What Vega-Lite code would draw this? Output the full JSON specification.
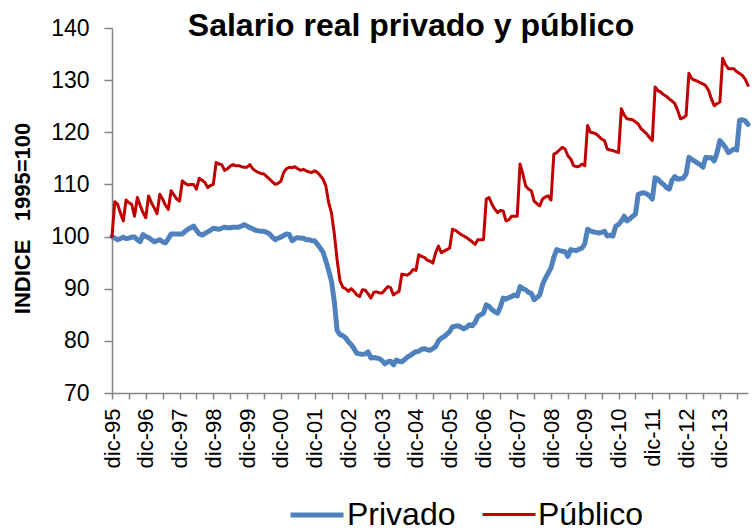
{
"$schema":"https://vega.github.io/schema/vega-lite/v6.json",
"width":636,"height":365,
"autosize":{"type":"none"},
"padding":{"left":112,"top":28,"right":7,"bottom":138},
"background":"white",
"config":{"view":{"stroke":null},"font":"Liberation Sans"},
"title":{"text":"Salario real privado y público","fontSize":32,"fontWeight":"bold","font":"Liberation Sans","color":"#000000","anchor":"middle","frame":"group","dx":-19,"offset":0,"baseline":"alphabetic","dy":51},
"data":{"values":[
{"d":"1995-12","Privado":100.0,"Público":100.0},
{"d":"1996-01","Privado":99.7,"Público":106.7},
{"d":"1996-02","Privado":99.4,"Público":106.2},
{"d":"1996-03","Privado":99.6,"Público":104.5},
{"d":"1996-04","Privado":99.9,"Público":103.0},
{"d":"1996-05","Privado":99.6,"Público":107.0},
{"d":"1996-06","Privado":99.7,"Público":106.5},
{"d":"1996-07","Privado":99.9,"Público":106.2},
{"d":"1996-08","Privado":99.9,"Público":103.9},
{"d":"1996-09","Privado":99.4,"Público":107.5},
{"d":"1996-10","Privado":99.0,"Público":106.0},
{"d":"1996-11","Privado":100.4,"Público":104.6},
{"d":"1996-12","Privado":100.0,"Público":103.6},
{"d":"1997-01","Privado":99.8,"Público":107.8},
{"d":"1997-02","Privado":99.4,"Público":106.5},
{"d":"1997-03","Privado":99.0,"Público":105.5},
{"d":"1997-04","Privado":99.2,"Público":104.4},
{"d":"1997-05","Privado":99.4,"Público":108.1},
{"d":"1997-06","Privado":99.0,"Público":107.2},
{"d":"1997-07","Privado":98.8,"Público":106.0},
{"d":"1997-08","Privado":99.6,"Público":105.2},
{"d":"1997-09","Privado":100.5,"Público":108.8},
{"d":"1997-10","Privado":100.5,"Público":108.0},
{"d":"1997-11","Privado":100.5,"Público":107.2},
{"d":"1997-12","Privado":100.5,"Público":106.8},
{"d":"1998-01","Privado":100.5,"Público":110.7},
{"d":"1998-02","Privado":101.0,"Público":110.2},
{"d":"1998-03","Privado":101.4,"Público":109.9},
{"d":"1998-04","Privado":101.7,"Público":110.0},
{"d":"1998-05","Privado":102.0,"Público":110.0},
{"d":"1998-06","Privado":101.2,"Público":109.1},
{"d":"1998-07","Privado":100.5,"Público":111.2},
{"d":"1998-08","Privado":100.3,"Público":110.8},
{"d":"1998-09","Privado":100.6,"Público":110.4},
{"d":"1998-10","Privado":100.9,"Público":109.4},
{"d":"1998-11","Privado":101.2,"Público":109.8},
{"d":"1998-12","Privado":101.6,"Público":110.0},
{"d":"1999-01","Privado":101.5,"Público":114.2},
{"d":"1999-02","Privado":101.4,"Público":113.9},
{"d":"1999-03","Privado":101.6,"Público":113.8},
{"d":"1999-04","Privado":101.8,"Público":112.7},
{"d":"1999-05","Privado":101.7,"Público":113.0},
{"d":"1999-06","Privado":101.7,"Público":113.5},
{"d":"1999-07","Privado":101.8,"Público":113.8},
{"d":"1999-08","Privado":101.8,"Público":113.6},
{"d":"1999-09","Privado":101.8,"Público":113.6},
{"d":"1999-10","Privado":102.0,"Público":113.4},
{"d":"1999-11","Privado":102.3,"Público":113.3},
{"d":"1999-12","Privado":102.0,"Público":113.3},
{"d":"2000-01","Privado":101.7,"Público":113.8},
{"d":"2000-02","Privado":101.5,"Público":113.0},
{"d":"2000-03","Privado":101.2,"Público":112.6},
{"d":"2000-04","Privado":101.1,"Público":112.3},
{"d":"2000-05","Privado":101.0,"Público":112.1},
{"d":"2000-06","Privado":101.0,"Público":112.0},
{"d":"2000-07","Privado":100.8,"Público":111.5},
{"d":"2000-08","Privado":100.5,"Público":111.0},
{"d":"2000-09","Privado":99.9,"Público":110.5},
{"d":"2000-10","Privado":99.4,"Público":110.0},
{"d":"2000-11","Privado":99.7,"Público":110.2},
{"d":"2000-12","Privado":99.9,"Público":110.6},
{"d":"2001-01","Privado":100.2,"Público":112.3},
{"d":"2001-02","Privado":100.5,"Público":113.0},
{"d":"2001-03","Privado":100.4,"Público":113.3},
{"d":"2001-04","Privado":99.2,"Público":113.2},
{"d":"2001-05","Privado":99.6,"Público":113.4},
{"d":"2001-06","Privado":99.8,"Público":113.0},
{"d":"2001-07","Privado":99.7,"Público":112.7},
{"d":"2001-08","Privado":99.7,"Público":112.9},
{"d":"2001-09","Privado":99.4,"Público":112.6},
{"d":"2001-10","Privado":99.4,"Público":112.4},
{"d":"2001-11","Privado":99.2,"Público":112.3},
{"d":"2001-12","Privado":99.2,"Público":112.6},
{"d":"2002-01","Privado":98.5,"Público":112.3},
{"d":"2002-02","Privado":97.8,"Público":111.7},
{"d":"2002-03","Privado":97.0,"Público":111.0},
{"d":"2002-04","Privado":95.3,"Público":109.7},
{"d":"2002-05","Privado":93.5,"Público":106.5},
{"d":"2002-06","Privado":91.4,"Público":104.5},
{"d":"2002-07","Privado":87.5,"Público":100.5},
{"d":"2002-08","Privado":82.0,"Público":95.5},
{"d":"2002-09","Privado":81.2,"Público":91.5},
{"d":"2002-10","Privado":81.0,"Público":90.3},
{"d":"2002-11","Privado":80.6,"Público":90.0},
{"d":"2002-12","Privado":79.8,"Público":89.5},
{"d":"2003-01","Privado":79.3,"Público":90.0},
{"d":"2003-02","Privado":78.5,"Público":89.5},
{"d":"2003-03","Privado":77.6,"Público":88.8},
{"d":"2003-04","Privado":77.5,"Público":88.5},
{"d":"2003-05","Privado":77.4,"Público":89.8},
{"d":"2003-06","Privado":77.5,"Público":89.7},
{"d":"2003-07","Privado":77.9,"Público":89.0},
{"d":"2003-08","Privado":76.7,"Público":88.2},
{"d":"2003-09","Privado":76.8,"Público":89.3},
{"d":"2003-10","Privado":76.7,"Público":89.4},
{"d":"2003-11","Privado":76.6,"Público":89.2},
{"d":"2003-12","Privado":76.2,"Público":89.2},
{"d":"2004-01","Privado":75.6,"Público":89.8},
{"d":"2004-02","Privado":76.0,"Público":90.4},
{"d":"2004-03","Privado":76.1,"Público":90.2},
{"d":"2004-04","Privado":75.4,"Público":88.8},
{"d":"2004-05","Privado":76.3,"Público":89.2},
{"d":"2004-06","Privado":76.1,"Público":89.5},
{"d":"2004-07","Privado":76.0,"Público":92.8},
{"d":"2004-08","Privado":76.4,"Público":92.7},
{"d":"2004-09","Privado":76.9,"Público":92.6},
{"d":"2004-10","Privado":77.2,"Público":93.0},
{"d":"2004-11","Privado":77.6,"Público":93.7},
{"d":"2004-12","Privado":77.9,"Público":93.5},
{"d":"2005-01","Privado":78.0,"Público":96.5},
{"d":"2005-02","Privado":78.4,"Público":96.2},
{"d":"2005-03","Privado":78.5,"Público":96.0},
{"d":"2005-04","Privado":78.3,"Público":95.5},
{"d":"2005-05","Privado":78.2,"Público":95.3},
{"d":"2005-06","Privado":78.5,"Público":94.9},
{"d":"2005-07","Privado":78.9,"Público":96.9},
{"d":"2005-08","Privado":80.0,"Público":98.2},
{"d":"2005-09","Privado":80.5,"Público":96.9},
{"d":"2005-10","Privado":80.8,"Público":97.2},
{"d":"2005-11","Privado":81.3,"Público":97.5},
{"d":"2005-12","Privado":81.8,"Público":97.8},
{"d":"2006-01","Privado":82.7,"Público":101.4},
{"d":"2006-02","Privado":82.8,"Público":101.2},
{"d":"2006-03","Privado":82.9,"Público":100.8},
{"d":"2006-04","Privado":82.6,"Público":100.4},
{"d":"2006-05","Privado":82.3,"Público":100.1},
{"d":"2006-06","Privado":82.6,"Público":99.8},
{"d":"2006-07","Privado":83.1,"Público":99.4},
{"d":"2006-08","Privado":82.9,"Público":99.0},
{"d":"2006-09","Privado":83.5,"Público":98.5},
{"d":"2006-10","Privado":84.7,"Público":99.4},
{"d":"2006-11","Privado":85.0,"Público":99.4},
{"d":"2006-12","Privado":85.3,"Público":99.4},
{"d":"2007-01","Privado":86.9,"Público":107.2},
{"d":"2007-02","Privado":86.6,"Público":107.5},
{"d":"2007-03","Privado":86.0,"Público":106.2},
{"d":"2007-04","Privado":85.6,"Público":105.3},
{"d":"2007-05","Privado":85.3,"Público":104.6},
{"d":"2007-06","Privado":86.5,"Público":105.0},
{"d":"2007-07","Privado":88.2,"Público":104.9},
{"d":"2007-08","Privado":88.0,"Público":103.0},
{"d":"2007-09","Privado":88.3,"Público":103.2},
{"d":"2007-10","Privado":88.5,"Público":103.9},
{"d":"2007-11","Privado":88.8,"Público":103.9},
{"d":"2007-12","Privado":88.6,"Público":103.9},
{"d":"2008-01","Privado":90.4,"Público":113.9},
{"d":"2008-02","Privado":90.0,"Público":112.0},
{"d":"2008-03","Privado":89.8,"Público":109.7},
{"d":"2008-04","Privado":89.3,"Público":109.1},
{"d":"2008-05","Privado":89.1,"Público":108.8},
{"d":"2008-06","Privado":87.9,"Público":106.8},
{"d":"2008-07","Privado":88.3,"Público":106.3},
{"d":"2008-08","Privado":88.8,"Público":105.9},
{"d":"2008-09","Privado":90.8,"Público":107.2},
{"d":"2008-10","Privado":92.0,"Público":107.6},
{"d":"2008-11","Privado":93.0,"Público":107.8},
{"d":"2008-12","Privado":94.0,"Público":107.0},
{"d":"2009-01","Privado":96.0,"Público":115.8},
{"d":"2009-02","Privado":97.5,"Público":116.1},
{"d":"2009-03","Privado":97.3,"Público":116.6},
{"d":"2009-04","Privado":97.2,"Público":117.1},
{"d":"2009-05","Privado":97.1,"Público":116.8},
{"d":"2009-06","Privado":96.2,"Público":115.5},
{"d":"2009-07","Privado":97.5,"Público":114.9},
{"d":"2009-08","Privado":97.4,"Público":113.6},
{"d":"2009-09","Privado":97.3,"Público":113.4},
{"d":"2009-10","Privado":97.6,"Público":113.5},
{"d":"2009-11","Privado":97.8,"Público":113.9},
{"d":"2009-12","Privado":98.6,"Público":113.6},
{"d":"2010-01","Privado":101.4,"Público":121.3},
{"d":"2010-02","Privado":101.1,"Público":120.0},
{"d":"2010-03","Privado":100.9,"Público":119.9},
{"d":"2010-04","Privado":100.8,"Público":119.7},
{"d":"2010-05","Privado":100.7,"Público":119.2},
{"d":"2010-06","Privado":100.8,"Público":118.7},
{"d":"2010-07","Privado":101.0,"Público":118.4},
{"d":"2010-08","Privado":100.1,"Público":116.8},
{"d":"2010-09","Privado":100.3,"Público":116.6},
{"d":"2010-10","Privado":100.1,"Público":116.5},
{"d":"2010-11","Privado":102.0,"Público":116.3},
{"d":"2010-12","Privado":102.3,"Público":116.1},
{"d":"2011-01","Privado":103.0,"Público":124.5},
{"d":"2011-02","Privado":103.9,"Público":123.3},
{"d":"2011-03","Privado":103.0,"Público":122.6},
{"d":"2011-04","Privado":103.4,"Público":122.5},
{"d":"2011-05","Privado":103.9,"Público":122.4},
{"d":"2011-06","Privado":104.3,"Público":122.0},
{"d":"2011-07","Privado":108.1,"Público":121.6},
{"d":"2011-08","Privado":108.3,"Público":120.7},
{"d":"2011-09","Privado":108.4,"Público":120.2},
{"d":"2011-10","Privado":108.2,"Público":119.7},
{"d":"2011-11","Privado":107.8,"Público":119.0},
{"d":"2011-12","Privado":107.2,"Público":118.4},
{"d":"2012-01","Privado":111.3,"Público":128.7},
{"d":"2012-02","Privado":111.0,"Público":128.0},
{"d":"2012-03","Privado":110.4,"Público":127.7},
{"d":"2012-04","Privado":110.0,"Público":127.2},
{"d":"2012-05","Privado":109.4,"Público":126.9},
{"d":"2012-06","Privado":109.1,"Público":126.4},
{"d":"2012-07","Privado":110.8,"Público":126.0},
{"d":"2012-08","Privado":111.5,"Público":125.5},
{"d":"2012-09","Privado":111.0,"Público":124.2},
{"d":"2012-10","Privado":111.1,"Público":122.6},
{"d":"2012-11","Privado":111.2,"Público":122.8},
{"d":"2012-12","Privado":112.0,"Público":123.2},
{"d":"2013-01","Privado":115.2,"Público":131.3},
{"d":"2013-02","Privado":114.8,"Público":130.3},
{"d":"2013-03","Privado":114.5,"Público":130.0},
{"d":"2013-04","Privado":114.1,"Público":129.8},
{"d":"2013-05","Privado":113.8,"Público":129.5},
{"d":"2013-06","Privado":113.3,"Público":129.3},
{"d":"2013-07","Privado":115.2,"Público":128.9},
{"d":"2013-08","Privado":115.1,"Público":128.0},
{"d":"2013-09","Privado":115.1,"Público":126.4},
{"d":"2013-10","Privado":114.5,"Público":125.1},
{"d":"2013-11","Privado":116.1,"Público":125.5},
{"d":"2013-12","Privado":118.4,"Público":125.8},
{"d":"2014-01","Privado":117.8,"Público":134.2},
{"d":"2014-02","Privado":117.1,"Público":133.0},
{"d":"2014-03","Privado":116.1,"Público":132.2},
{"d":"2014-04","Privado":116.4,"Público":132.2},
{"d":"2014-05","Privado":116.8,"Público":132.2},
{"d":"2014-06","Privado":116.6,"Público":131.6},
{"d":"2014-07","Privado":122.3,"Público":131.3},
{"d":"2014-08","Privado":122.4,"Público":130.9},
{"d":"2014-09","Privado":122.2,"Público":130.2},
{"d":"2014-10","Privado":121.5,"Público":129.0}
]},
"transform":[{"fold":["Privado","Público"],"as":["serie","valor"]}],
"mark":{"type":"line","strokeJoin":"round","strokeCap":"round"},
"encoding":{
"x":{"field":"d","type":"ordinal","sort":null,"scale":{"type":"point","padding":0},
"axis":{"values":["1995-12","1996-06","1996-12","1997-06","1997-12","1998-06","1998-12","1999-06","1999-12","2000-06","2000-12","2001-06","2001-12","2002-06","2002-12","2003-06","2003-12","2004-06","2004-12","2005-06","2005-12","2006-06","2006-12","2007-06","2007-12","2008-06","2008-12","2009-06","2009-12","2010-06","2010-12","2011-06","2011-12","2012-06","2012-12","2013-06","2013-12","2014-06"],
"labelExpr":"slice(datum.value,5)=='12' ? 'dic-' + slice(datum.value,2,4) : ''",
"labelAngle":-90,"labelFontSize":22,"labelFont":"Liberation Sans","labelColor":"#000000","labelPadding":9,"labelOverlap":false,
"tickSize":6,"tickColor":"#868686","tickWidth":1.5,"domainColor":"#868686","domainWidth":1.5,"title":null,"grid":false}},
"y":{"field":"valor","type":"quantitative","scale":{"domain":[70,140],"nice":false,"zero":false},
"axis":{"values":[70,80,90,100,110,120,130,140],"labelFontSize":23,"labelFont":"Liberation Sans","labelColor":"#000000","labelPadding":15,
"tickSize":8,"tickColor":"#868686","tickWidth":1.5,"domainColor":"#868686","domainWidth":1.5,"grid":false,
"title":"INDICE \u00a0\u00a01995=100","titleFontSize":22,"titleFont":"Liberation Sans","titleFontWeight":"bold","titleColor":"#000000","titleAngle":-90,"titleX":-90,"titleY":190,"titleAlign":"center","titleBaseline":"middle"}},
"color":{"field":"serie","type":"nominal","scale":{"domain":["Privado","Público"],"range":["#4F81BD","#C00000"]},
"legend":{"orient":"none","legendX":176,"legendY":458,"direction":"horizontal","title":null,"symbolType":"stroke","symbolSize":2809,"labelFontSize":32,"labelFont":"Liberation Sans","labelColor":"#000000","labelOffset":1,"columnPadding":20,"labelLimit":300}},
"strokeWidth":{"field":"serie","type":"nominal","scale":{"domain":["Privado","Público"],"range":[5,3]},
"legend":{"orient":"none","legendX":176,"legendY":458,"direction":"horizontal","title":null,"symbolType":"stroke","symbolSize":2809,"labelFontSize":32,"labelFont":"Liberation Sans","labelColor":"#000000","labelOffset":1,"columnPadding":20,"labelLimit":300}}
}
}
